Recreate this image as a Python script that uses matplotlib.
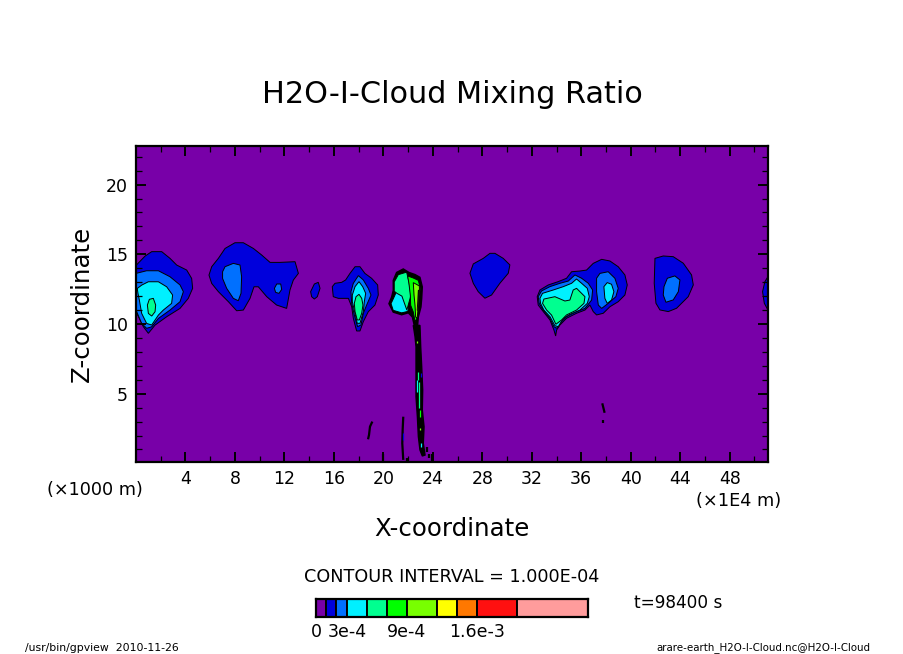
import matplotlib
matplotlib.use("Agg")
import matplotlib.pyplot as plt

W, H = 904, 654

# colour levels of the bar, in units of 1e-4 (bar edges)
levels = [0, 1, 2, 3.1, 5.1, 7.1, 9.1, 12.1, 14.1, 16.1, 20.1, 27.2]
level_colors = ["#7800a8", "#0000dc", "#0070ff", "#00f0ff", "#00ff90", "#00ff00",
                "#78ff00", "#ffff00", "#ff7800", "#ff1010", "#ff9c9c"]
bar_ticks = [0, 3.1, 9.1, 16.1]
bar_labels = ["0", "3e-4", "9e-4", "1.6e-3"]

x_ticks = [4, 8, 12, 16, 20, 24, 28, 32, 36, 40, 44, 48]
z_ticks = [5, 10, 15, 20]

# cloud outlines, (x [1e4 m], z [1000 m])
a1 = [(0, 14.2), (.73, 14.87), (1.27, 15.19), (2.08, 15.19), (2.75, 14.71), (3.29, 14.23), (4.1, 13.87),
      (4.5, 13.27), (4.58, 12.56), (4.23, 11.84), (3.56, 11.12), (2.48, 10.52), (1.54, 9.92), (1.0, 9.33),
      (.59, 9.81), (.27, 10.4), (0, 10.88)]
a2 = [(0, 13.63), (.86, 13.82), (1.81, 13.82), (2.75, 13.39), (3.56, 12.8), (3.83, 12.32), (3.56, 11.6),
      (2.75, 11.0), (1.81, 10.4), (1.27, 9.8), (.86, 9.69), (.46, 10.04), (0, 11.0)]
a3 = [(.1, 12.55), (.46, 12.79), (1.0, 13.03), (1.81, 13.03), (2.48, 12.67), (2.96, 12.08), (2.88, 11.48),
      (2.21, 11.0), (1.81, 10.64), (1.27, 9.93), (.86, 10.04), (.46, 10.76), (.27, 11.72), (.16, 12.2)]
a4 = [(.92, 11.36), (1.08, 11.77), (1.4, 11.84), (1.59, 11.36), (1.54, 10.88), (1.27, 10.57), (1.0, 10.76)]

b1 = [(5.9, 13.51), (6.12, 14.11), (6.66, 14.71), (7.2, 15.42), (8.0, 15.83), (8.68, 15.83), (9.49, 15.42),
      (10.16, 14.95), (10.84, 14.42), (11.64, 14.42), (12.86, 14.47), (13.13, 13.63), (12.72, 13.15),
      (12.45, 12.44), (12.18, 11.12), (11.37, 11.36), (10.57, 11.96), (9.89, 12.67), (9.54, 12.67),
      (9.22, 11.84), (8.68, 11.0), (8.14, 10.95), (7.47, 11.6), (6.66, 12.32), (6.12, 12.91)]
b2 = [(7.0, 13.75), (7.2, 14.11), (7.87, 14.35), (8.41, 14.23), (8.54, 13.39), (8.49, 12.2), (8.27, 11.67),
      (7.87, 11.84), (7.33, 12.56), (7.0, 13.27)]
b3 = [(11.19, 12.56), (11.38, 12.87), (11.7, 12.87), (11.78, 12.48), (11.56, 12.2), (11.29, 12.27)]
small1 = [(14.12, 12.32), (14.42, 12.87), (14.74, 12.99), (14.88, 12.56), (14.66, 11.96), (14.42, 11.79),
          (14.2, 11.96)]

c1 = [(15.87, 12.68), (16.09, 12.92), (16.63, 12.99), (16.95, 13.16), (17.3, 13.63), (17.71, 14.11),
      (18.11, 14.11), (18.51, 13.63), (19.05, 13.28), (19.54, 12.8), (19.59, 12.08), (19.32, 11.36),
      (18.78, 10.88), (18.38, 10.17), (18.11, 9.5), (17.84, 9.5), (17.57, 10.41), (17.44, 11.24),
      (17.17, 11.84), (16.36, 11.84), (15.95, 11.96)]
c2 = [(17.38, 12.32), (17.57, 12.92), (17.98, 13.47), (18.38, 13.16), (18.78, 12.56), (19.0, 12.08),
      (18.65, 11.36), (18.38, 10.77), (18.19, 9.93), (17.92, 9.81), (17.65, 10.65), (17.44, 11.48)]
c3 = [(17.49, 12.08), (17.71, 12.68), (18.03, 13.04), (18.33, 12.68), (18.57, 12.2), (18.46, 11.6),
      (18.38, 10.88), (18.11, 10.05), (17.89, 10.05), (17.65, 11.0), (17.49, 11.6)]
c4 = [(17.65, 11.48), (17.79, 11.96), (18.03, 12.13), (18.25, 11.84), (18.35, 11.36), (18.25, 10.77),
      (18.06, 10.29), (17.89, 10.29), (17.71, 10.89)]

storm_top = [(20.8, 13.13), (21.07, 13.7), (21.61, 13.95), (22.07, 13.7), (22.56, 13.55), (22.96, 13.35),
             (23.15, 12.66), (23.1, 11.82), (23.04, 11.22), (22.83, 10.5), (22.77, 9.9), (22.5, 9.9),
             (22.34, 10.5), (22.02, 10.8), (21.48, 10.66), (20.8, 10.85), (20.45, 11.46), (20.67, 11.94),
             (20.8, 12.42)]
storm_stem = [(22.42, 9.9), (22.56, 9.09), (22.64, 8.37), (22.64, 6.7), (22.64, 4.79), (22.75, 3.35),
              (22.83, 1.92), (22.96, .96), (23.15, .53), (23.37, .6), (23.23, 1.44), (23.29, 2.63),
              (23.15, 3.83), (23.18, 5.27), (23.1, 6.94), (23.02, 8.37), (22.96, 9.9)]
storm_cyan = [(20.62, 11.46), (20.85, 11.9), (21.05, 12.3), (21.3, 12.4), (21.7, 11.9), (22.05, 11.1),
              (21.96, 10.9), (21.48, 10.8), (20.8, 10.98)]
storm_sea = [(20.88, 13.02), (21.21, 13.54), (21.88, 13.72), (22.07, 13.02), (22.23, 12.06), (21.9, 11.0),
             (21.7, 11.5), (21.5, 12.0), (21.1, 12.2), (20.88, 12.35)]
storm_green = [(21.96, 13.45), (22.42, 13.3), (22.83, 13.13), (22.99, 12.54), (22.88, 11.82), (22.74, 11.1),
               (22.69, 10.34), (22.56, 10.19), (22.42, 10.86), (22.21, 11.34), (22.18, 12.06), (22.07, 12.9)]
storm_lime = [(22.42, 12.97), (22.91, 12.73), (22.93, 12.06), (22.83, 11.34), (22.74, 10.43), (22.61, 10.5),
              (22.56, 11.34), (22.48, 12.06)]
storm_yellow = [(22.83, 12.42), (22.91, 12.42), (22.83, 10.98), (22.74, 10.98)]

e1 = [(32.44, 11.96), (32.66, 12.44), (33.33, 12.8), (34.14, 13.04), (34.81, 13.28), (35.22, 13.75),
      (35.89, 13.8), (36.43, 13.87), (36.97, 14.35), (37.65, 14.64), (38.32, 14.52), (38.99, 14.11),
      (39.53, 13.52), (39.72, 12.8), (39.53, 12.08), (38.99, 11.6), (38.32, 11.24), (37.78, 10.77),
      (37.24, 10.65), (36.97, 10.89), (36.7, 11.36), (36.3, 11.0), (35.62, 10.77), (34.81, 10.41),
      (34.28, 9.93), (34.01, 9.57), (33.93, 9.14), (33.79, 9.57), (33.47, 10.29), (32.93, 10.89), (32.52, 11.36)]
e2 = [(32.52, 11.96), (32.79, 12.37), (33.47, 12.68), (34.28, 12.92), (34.95, 13.08), (35.49, 13.52),
      (36.03, 13.28), (36.57, 12.92), (36.92, 12.44), (36.84, 11.72), (36.3, 11.12), (35.49, 10.84),
      (34.81, 10.53), (34.28, 10.05), (34.01, 9.69), (33.79, 9.81), (33.47, 10.41), (32.93, 11.0), (32.6, 11.48)]
e3 = [(32.66, 11.84), (32.87, 12.2), (33.74, 12.44), (34.55, 12.68), (35.22, 12.92), (35.62, 13.23),
      (36.03, 12.92), (36.49, 12.56), (36.65, 11.96), (36.49, 11.48), (35.89, 11.0), (35.08, 10.69),
      (34.55, 10.41), (34.14, 9.81), (33.87, 9.88), (33.47, 10.53), (32.98, 11.0), (32.71, 11.48)]
e4 = [(32.87, 11.48), (32.98, 11.79), (33.87, 11.96), (34.68, 11.65), (35.08, 11.72), (35.35, 12.44),
      (35.62, 12.56), (36.3, 11.96), (36.22, 11.48), (35.62, 11.0), (34.81, 10.65), (34.41, 10.29),
      (33.95, 9.98), (33.6, 10.64), (33.2, 11.0)]
e5 = [(37.24, 13.28), (37.51, 13.63), (38.18, 13.75), (38.72, 13.28), (38.99, 12.56), (38.8, 11.96),
      (38.18, 11.48), (37.65, 11.12), (37.38, 11.36), (37.24, 12.32)]
e6 = [(37.83, 12.68), (38.1, 12.97), (38.45, 12.85), (38.64, 12.32), (38.45, 11.72), (38.1, 11.48), (37.91, 11.84)]

f1 = [(27.0, 13.64), (27.27, 14.31), (28.08, 14.71), (28.62, 15.07), (29.02, 15.07), (29.69, 14.71),
      (30.23, 14.24), (30.1, 13.64), (29.42, 12.92), (28.75, 12.08), (28.21, 11.85), (27.67, 12.32), (27.27, 12.92)]

g1 = [(41.96, 14.71), (42.63, 14.88), (43.44, 14.83), (44.25, 14.36), (44.92, 13.52), (45.06, 12.8),
      (44.65, 11.96), (43.71, 11.13), (43.04, 10.89), (42.36, 11.01), (42.04, 11.49), (41.9, 12.92)]
g2 = [(42.69, 12.68), (42.96, 13.28), (43.57, 13.45), (43.98, 13.16), (43.85, 12.32), (43.44, 11.73),
      (42.85, 11.56), (42.63, 12.08)]

h1 = [(51.18, 13.52), (50.85, 13.04), (50.66, 12.32), (50.8, 11.49), (51.12, 10.96)]

# (colour band, outline), painted in this order
clouds = [(1, a1), (2, a2), (3, a3), (4, a4), (1, b1), (2, b2), (2, b3), (1, small1),
          (1, c1), (2, c2), (3, c3), (4, c4), (1, f1), (1, e1), (2, e2), (3, e3), (4, e4),
          (2, e5), (3, e6), (1, g1), (2, g2), (1, h1)]
storm = [(3, storm_cyan), (4, storm_sea), (5, storm_green), (6, storm_lime), (7, storm_yellow)]

# thin filaments: (x list, z list)
filaments = [([19.11, 18.92, 18.84, 18.76], [3.0, 2.64, 2.04, 1.73]),
             ([21.61, 21.56, 21.53, 21.61], [3.35, 2.4, 1.44, .25]),
             ([19.94, 19.94], [.67, .1]), ([21.94, 21.94], [.36, .1]), ([23.93, 23.93], [.67, .1]),
             ([23.66, 23.66], [.65, .36]), ([23.5, 23.5], [1.15, .84]),
             ([37.7, 37.89], [4.31, 3.63]), ([37.78, 37.78], [3.11, 2.92])]
# coloured streaks inside the stem: (band, x list, z list)
streaks = [(4, [22.83, 22.83], [6.58, 5.98]), (3, [22.75, 22.75], [5.98, 5.15]),
           (4, [22.91, 22.91], [5.86, 3.95]), (5, [22.99, 22.99], [3.83, 3.35]),
           (6, [22.75, 22.75], [8.78, 8.66]), (6, [22.99, 22.99], [2.52, 2.38]),
           (1, [23.02, 23.02], [6.46, 6.22]), (3, [23.07, 23.07], [1.44, 1.15]),
           (1, [21.56, 21.56], [2.16, 1.68])]


def drawCloud(ax, band, outline, lw=0.7):
    xs = [p[0] for p in outline]
    zs = [p[1] for p in outline]
    ax.fill(xs, zs, facecolor=level_colors[band], edgecolor="black", linewidth=lw)


def drawMain(fig):
    ax = fig.add_axes([136 / W, 1 - 462 / H, 632 / W, 316 / H])
    ax.set_facecolor(level_colors[0])
    ax.set_xlim(0, 51.1)
    ax.set_ylim(0.1, 22.77)

    for band, outline in clouds:
        drawCloud(ax, band, outline)

    # storm column: outline is nearly solid black because contours pile up
    for outline in (storm_top, storm_stem):
        xs = [p[0] for p in outline]
        zs = [p[1] for p in outline]
        ax.fill(xs, zs, facecolor="black", edgecolor="black", linewidth=1.0)
    for band, outline in storm:
        drawCloud(ax, band, outline)
    for xs, zs in filaments:
        ax.plot(xs, zs, color="black", linewidth=1.6, solid_capstyle="butt")
    for band, xs, zs in streaks:
        ax.plot(xs, zs, color=level_colors[band], linewidth=0.9, solid_capstyle="butt")

    ax.set_xticks(x_ticks)
    ax.set_yticks(z_ticks)
    ax.set_xticks([x - 2 for x in x_ticks] + [50], minor=True)
    ax.set_yticks([z for z in range(1, 23) if z % 5 != 0], minor=True)
    ax.tick_params(which="major", direction="in", top=True, right=True, length=7, width=1.4,
                   labelsize=12.5, pad=6)
    ax.tick_params(which="minor", direction="in", top=True, right=True, length=4, width=0.9)
    for spine in ax.spines.values():
        spine.set_linewidth(1.6)

    ax.set_title("H2O-I-Cloud Mixing Ratio", fontsize=21.8, pad=31)
    ax.set_xlabel("X-coordinate", fontsize=17.6, va="center")
    ax.xaxis.set_label_coords(0.5, -67 / 316)
    ax.set_ylabel("Z-coordinate", fontsize=17.6, va="center")
    ax.yaxis.set_label_coords(-54 / 632, 0.5)


def drawColorbar(fig):
    cax = fig.add_axes([316 / W, 1 - 617 / H, 272 / W, 18 / H])
    lefts = levels[:-1]
    widths = [b - a for a, b in zip(levels[:-1], levels[1:])]
    cax.barh([0] * len(lefts), widths, left=lefts, height=1, color=level_colors,
             edgecolor="black", linewidth=1.4)
    cax.set_xlim(levels[0], levels[-1])
    cax.set_ylim(-0.5, 0.5)
    cax.set_yticks([])
    cax.set_xticks(bar_ticks)
    cax.set_xticklabels(bar_labels, fontsize=12.5)
    cax.tick_params(axis="x", length=0, pad=4)
    for spine in cax.spines.values():
        spine.set_linewidth(1.6)


def main():
    fig = plt.figure(figsize=(W / 100, H / 100), dpi=100, facecolor="white")
    drawMain(fig)
    drawColorbar(fig)

    fig.text(95 / W, 1 - 490 / H, "(×1000 m)", fontsize=12.7, ha="center", va="center")
    fig.text(739 / W, 1 - 501 / H, "(×1E4 m)", fontsize=12.8, ha="center", va="center")
    fig.text(452 / W, 1 - 577 / H, "CONTOUR INTERVAL = 1.000E-04", fontsize=12.7, ha="center", va="center")
    fig.text(678 / W, 1 - 603 / H, "t=98400 s", fontsize=12.2, ha="center", va="center")
    fig.text(25 / W, 1 - 648 / H, "/usr/bin/gpview  2010-11-26", fontsize=7.8, ha="left", va="center")
    fig.text(870 / W, 1 - 648 / H, "arare-earth_H2O-I-Cloud.nc@H2O-I-Cloud", fontsize=7.4, ha="right", va="center")

    fig.savefig("out.png", dpi=100)


if __name__ == '__main__':
    main()
